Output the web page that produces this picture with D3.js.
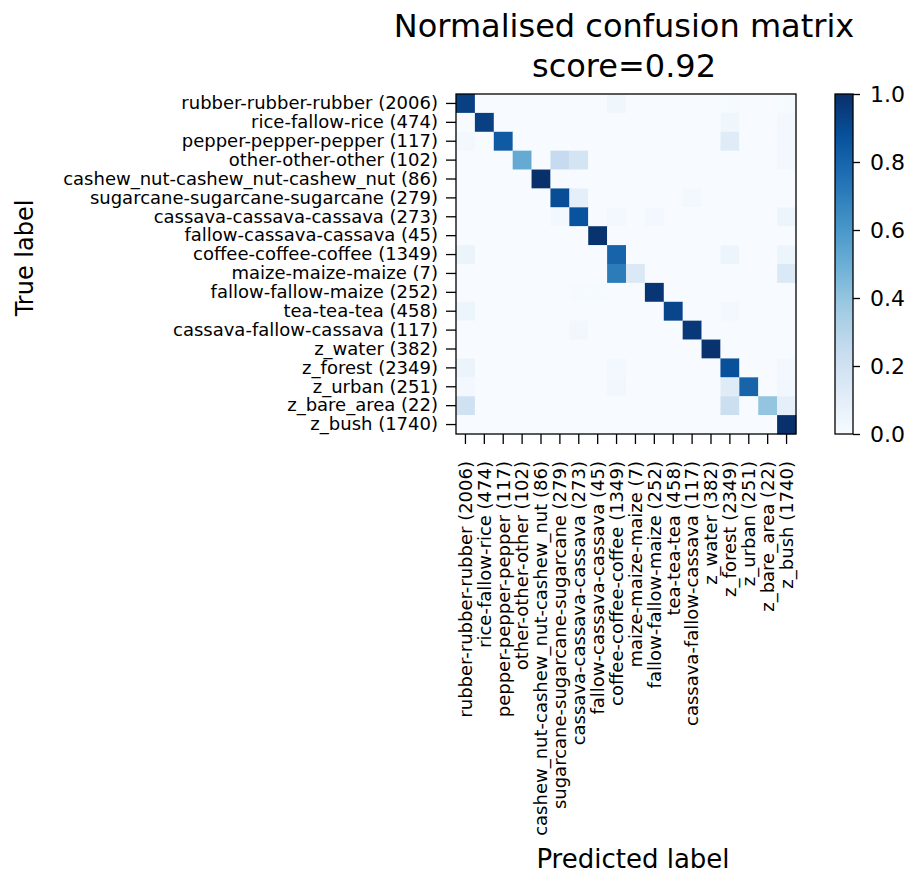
<!DOCTYPE html>
<html>
<head>
<meta charset="utf-8">
<script src="https://cdn.jsdelivr.net/npm/d3@7"></script>
<style>
	body { margin: 0; background: #fff; }
	text { font-family: "DejaVu Sans", sans-serif; fill: #000; }
</style>
</head>
<body>
<div id="chart"></div>
<script>

//class names and sample counts, in matrix order
const classNames = [
	"rubber-rubber-rubber", "rice-fallow-rice", "pepper-pepper-pepper", "other-other-other",
	"cashew_nut-cashew_nut-cashew_nut", "sugarcane-sugarcane-sugarcane", "cassava-cassava-cassava",
	"fallow-cassava-cassava", "coffee-coffee-coffee", "maize-maize-maize", "fallow-fallow-maize",
	"tea-tea-tea", "cassava-fallow-cassava", "z_water", "z_forest", "z_urban", "z_bare_area", "z_bush"
]
const classCounts = [2006, 474, 117, 102, 86, 279, 273, 45, 1349, 7, 252, 458, 117, 382, 2349, 251, 22, 1740]

//normalised confusion matrix, one row per true label
const matrixRows = [
	[0.94, 0, 0, 0, 0, 0, 0, 0, 0.04, 0, 0, 0, 0, 0, 0.01, 0, 0, 0.01],
	[0, 0.94, 0, 0, 0, 0, 0, 0, 0, 0, 0, 0, 0, 0, 0.04, 0, 0, 0.02],
	[0.02, 0, 0.84, 0, 0, 0, 0, 0, 0, 0, 0, 0, 0, 0, 0.12, 0, 0, 0.02],
	[0, 0, 0, 0.52, 0, 0.25, 0.18, 0, 0, 0, 0, 0, 0, 0, 0, 0, 0, 0.02],
	[0, 0, 0, 0, 1.0, 0, 0, 0, 0, 0, 0, 0, 0, 0, 0, 0, 0, 0],
	[0, 0, 0, 0, 0, 0.89, 0.09, 0, 0, 0, 0, 0, 0.02, 0, 0, 0, 0, 0],
	[0, 0, 0, 0, 0, 0.02, 0.87, 0, 0.02, 0, 0.02, 0, 0, 0, 0, 0, 0, 0.05],
	[0, 0, 0, 0, 0, 0, 0, 0.99, 0, 0, 0, 0, 0, 0, 0, 0, 0, 0],
	[0.06, 0, 0, 0, 0, 0, 0, 0, 0.80, 0, 0, 0, 0, 0, 0.05, 0, 0, 0.05],
	[0, 0, 0, 0, 0, 0, 0, 0, 0.71, 0.14, 0, 0, 0, 0, 0, 0, 0, 0.14],
	[0, 0, 0, 0, 0, 0, 0.01, 0.01, 0, 0, 0.98, 0, 0, 0, 0, 0, 0, 0],
	[0.05, 0, 0, 0, 0, 0, 0, 0, 0, 0, 0, 0.92, 0, 0, 0.02, 0, 0, 0],
	[0, 0, 0, 0, 0, 0, 0.03, 0, 0, 0, 0, 0, 0.97, 0, 0, 0, 0, 0],
	[0, 0, 0, 0, 0, 0, 0, 0, 0, 0, 0, 0, 0, 0.99, 0, 0, 0, 0],
	[0.06, 0, 0, 0, 0, 0, 0, 0, 0.02, 0, 0, 0, 0, 0, 0.88, 0, 0, 0.02],
	[0.02, 0, 0, 0, 0, 0, 0, 0, 0.03, 0, 0, 0, 0, 0, 0.12, 0.80, 0, 0.03],
	[0.20, 0, 0, 0, 0, 0, 0, 0, 0, 0, 0, 0, 0, 0, 0.22, 0, 0.40, 0.09],
	[0, 0, 0, 0, 0, 0, 0, 0, 0, 0, 0, 0, 0, 0, 0, 0, 0, 1.0]
]

const colorbarTicks = [0, 0.2, 0.4, 0.6, 0.8, 1.0]
const score = 0.92

//matplotlib "Blues" anchor colours
const bluesStops = ["#f7fbff", "#deebf7", "#c6dbef", "#9ecae1", "#6baed6", "#4292c6", "#2171b5", "#08519c", "#08306b"]

const w = 914, h = 875
const mx = 456, my = 94, msize = 340
const cbX = 835, cbW = 18
const tickFont = 18

let tickLabels = classNames.map((n, i) => `${n} (${classCounts[i]})`)

let svg = d3.select('#chart').append('svg')
	.attr('width', w)
	.attr('height', h)

let x = d3.scaleBand().domain(d3.range(classNames.length)).range([mx, mx + msize])
let y = d3.scaleBand().domain(d3.range(classNames.length)).range([my, my + msize])
let color = d3.scaleLinear()
	.domain(bluesStops.map((c, i) => i / (bluesStops.length - 1)))
	.range(bluesStops)
	.clamp(true)

//flatten matrix into cells
let cells = []
matrixRows.forEach((row, r) => row.forEach((v, c) => cells.push({r, c, v})))

svg.append('g').attr('class', 'cells')
	.selectAll('rect')
	.data(cells)
	.join('rect')
	.attr('x', d => x(d.c))
	.attr('y', d => y(d.r))
	.attr('width', x.bandwidth() + 0.3)
	.attr('height', y.bandwidth() + 0.3)
	.attr('fill', d => color(d.v))

//axes
let yAxis = d3.axisLeft(y).tickSize(10).tickPadding(8).tickFormat(i => tickLabels[i])
let xAxis = d3.axisBottom(x).tickSize(10).tickPadding(6).tickFormat(i => tickLabels[i])

let yG = svg.append('g').attr('transform', `translate(${mx},0)`).call(yAxis)
yG.select('.domain').remove()
yG.selectAll('text').attr('font-size', tickFont).attr('font-family', '"DejaVu Sans", sans-serif')

let xG = svg.append('g').attr('transform', `translate(0,${my + msize})`).call(xAxis)
xG.select('.domain').remove()
xG.selectAll('text')
	.attr('font-size', tickFont)
	.attr('font-family', '"DejaVu Sans", sans-serif')
	.attr('text-anchor', 'end')
	.attr('transform', 'rotate(-90)')
	.attr('x', -27)
	.attr('y', 0)
	.attr('dy', '0.35em')
svg.selectAll('.tick line').attr('stroke', '#000').attr('stroke-width', 1.3)

//matrix frame
svg.append('rect')
	.attr('x', mx).attr('y', my)
	.attr('width', msize).attr('height', msize)
	.attr('fill', 'none').attr('stroke', '#000').attr('stroke-width', 1.3)

//colorbar
let grad = svg.append('defs').append('linearGradient')
	.attr('id', 'bluesGrad')
	.attr('x1', 0).attr('y1', 1).attr('x2', 0).attr('y2', 0)
grad.selectAll('stop')
	.data(bluesStops)
	.join('stop')
	.attr('offset', (c, i) => i / (bluesStops.length - 1))
	.attr('stop-color', c => c)

let cbScale = d3.scaleLinear().domain([0, 1]).range([my + msize, my])
svg.append('rect')
	.attr('x', cbX).attr('y', my)
	.attr('width', cbW).attr('height', msize)
	.attr('fill', 'url(#bluesGrad)')
	.attr('stroke', '#000').attr('stroke-width', 1.3)

let cbG = svg.append('g').attr('transform', `translate(${cbX + cbW},0)`)
	.call(d3.axisRight(cbScale).tickValues(colorbarTicks).tickSize(7).tickPadding(10).tickFormat(d3.format('.1f')))
cbG.select('.domain').remove()
cbG.selectAll('line').attr('stroke', '#000').attr('stroke-width', 1.3)
cbG.selectAll('text').attr('font-size', 22).attr('font-family', '"DejaVu Sans", sans-serif')

//titles
let title = svg.append('text')
	.attr('text-anchor', 'middle')
	.attr('font-size', 32)
title.append('tspan').attr('x', mx + msize / 2 - 2).attr('y', 37).text('Normalised confusion matrix')
title.append('tspan').attr('x', mx + msize / 2 - 2).attr('y', 77).text(`score=${score}`)

svg.append('text')
	.attr('transform', `translate(33,258) rotate(-90)`)
	.attr('text-anchor', 'middle')
	.attr('font-size', 24)
	.text('True label')

svg.append('text')
	.attr('x', mx + msize / 2 + 7)
	.attr('y', 868)
	.attr('text-anchor', 'middle')
	.attr('font-size', 26)
	.text('Predicted label')

</script>
</body>
</html>
